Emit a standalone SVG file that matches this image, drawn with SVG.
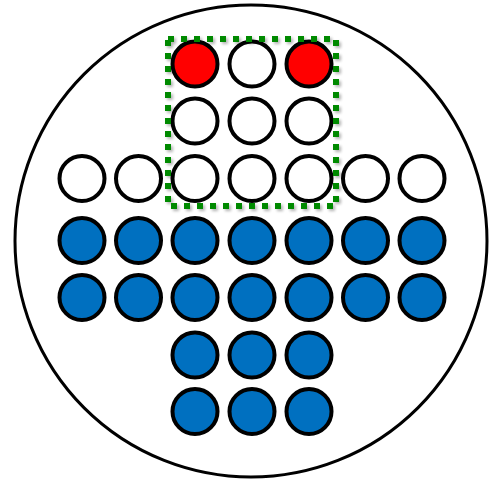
<svg xmlns="http://www.w3.org/2000/svg" width="498" height="481" viewBox="0 0 498 481">
<style>
.hole{stroke:#000;stroke-width:4}
.w{fill:#fff}
.b{fill:#0070C0}
.r{fill:#FF0000}
</style>
<defs>
<filter id="sh" x="-10%" y="-10%" width="120%" height="120%">
<feGaussianBlur in="SourceAlpha" stdDeviation="1.5"/>
<feOffset dx="1.5" dy="2" result="o"/>
<feComponentTransfer><feFuncA type="linear" slope="0.3"/></feComponentTransfer>
<feMerge><feMergeNode/><feMergeNode in="SourceGraphic"/></feMerge>
</filter>
</defs>
<rect width="498" height="481" fill="#fff"/>
<g id="board"><circle cx="251" cy="241" r="236" fill="#fff" stroke="#000" stroke-width="3"/></g>
<g id="row1">
<circle class="hole r" cx="195" cy="64" r="22.5"/>
<circle class="hole w" cx="252" cy="64" r="22.5"/>
<circle class="hole r" cx="309" cy="64" r="22.5"/>
</g>
<g id="row2">
<circle class="hole w" cx="195" cy="121" r="22.5"/>
<circle class="hole w" cx="252" cy="121" r="22.5"/>
<circle class="hole w" cx="309" cy="121" r="22.5"/>
</g>
<g id="row3">
<circle class="hole w" cx="82" cy="178.5" r="22.5"/>
<circle class="hole w" cx="138.5" cy="178.5" r="22.5"/>
<circle class="hole w" cx="195" cy="178.5" r="22.5"/>
<circle class="hole w" cx="252" cy="178.5" r="22.5"/>
<circle class="hole w" cx="309" cy="178.5" r="22.5"/>
<circle class="hole w" cx="365.5" cy="178.5" r="22.5"/>
<circle class="hole w" cx="422" cy="178.5" r="22.5"/>
</g>
<g id="row4">
<circle class="hole b" cx="82" cy="240.5" r="22.5"/>
<circle class="hole b" cx="138.5" cy="240.5" r="22.5"/>
<circle class="hole b" cx="195" cy="240.5" r="22.5"/>
<circle class="hole b" cx="252" cy="240.5" r="22.5"/>
<circle class="hole b" cx="309" cy="240.5" r="22.5"/>
<circle class="hole b" cx="365.5" cy="240.5" r="22.5"/>
<circle class="hole b" cx="422" cy="240.5" r="22.5"/>
</g>
<g id="row5">
<circle class="hole b" cx="82" cy="297.5" r="22.5"/>
<circle class="hole b" cx="138.5" cy="297.5" r="22.5"/>
<circle class="hole b" cx="195" cy="297.5" r="22.5"/>
<circle class="hole b" cx="252" cy="297.5" r="22.5"/>
<circle class="hole b" cx="309" cy="297.5" r="22.5"/>
<circle class="hole b" cx="365.5" cy="297.5" r="22.5"/>
<circle class="hole b" cx="422" cy="297.5" r="22.5"/>
</g>
<g id="row6">
<circle class="hole b" cx="195" cy="355" r="22.5"/>
<circle class="hole b" cx="252" cy="355" r="22.5"/>
<circle class="hole b" cx="309" cy="355" r="22.5"/>
</g>
<g id="row7">
<circle class="hole b" cx="195" cy="411.5" r="22.5"/>
<circle class="hole b" cx="252" cy="411.5" r="22.5"/>
<circle class="hole b" cx="309" cy="411.5" r="22.5"/>
</g>
<g id="selection"><rect x="168" y="39" width="168" height="167" fill="none" stroke="#008A00" stroke-width="6" stroke-dasharray="6 7" filter="url(#sh)"/></g>
</svg>
